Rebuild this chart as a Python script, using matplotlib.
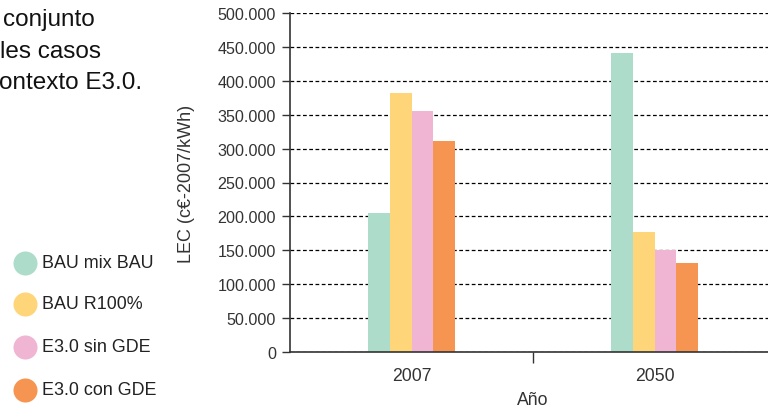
import numpy as np
import matplotlib.pyplot as plt
from matplotlib.ticker import FuncFormatter

plt.rcParams['font.family'] = ['Liberation Sans', 'DejaVu Sans']

years = ['2007', '2050']
series = ['BAU mix BAU', 'BAU R100%', 'E3.0 sin GDE', 'E3.0 con GDE']
colors = ['#addcca', '#fed679', '#efb5d3', '#f69552']
values = {
    'BAU mix BAU': [205000, 441000],
    'BAU R100%': [382000, 177000],
    'E3.0 sin GDE': [355000, 150000],
    'E3.0 con GDE': [311000, 131000],
}
intro = ['conjunto', 'les casos', 'ontexto E3.0.']

W, H = 768, 410
fig = plt.figure(figsize=(W / 100, H / 100), dpi=100)

# axes runs off the right edge, like the cropped original
x0, x1 = 290, 776
y0, y1 = 353, 14
ax = fig.add_axes([x0 / W, 1 - y0 / H, (x1 - x0) / W, (y0 - y1) / H])

x = np.arange(len(years))
bw = 0.09
for i, s in enumerate(series):
    ax.bar(x + (i - 1.5) * bw, values[s], bw, color=colors[i], zorder=2)

ax.set_xlim(-0.5, 1.5)
ax.set_ylim(0, 500000)
ax.set_yticks(np.arange(0, 500001, 50000))
ax.yaxis.set_major_formatter(FuncFormatter(
    lambda v, p: '0' if v == 0 else '{:,.0f}'.format(v).replace(',', '.')))
ax.yaxis.grid(True, linestyle=(0, (3, 2)), color='black', linewidth=0.9, zorder=1)

ax.set_xticks([0.5])
ax.set_xticklabels([])
ax.set_xticks(x, minor=True)
ax.set_xticklabels(years, minor=True)
ax.tick_params(axis='x', which='minor', length=0, pad=11, labelsize=12.7, labelcolor='#333333')
ax.tick_params(axis='x', which='major', length=8, width=1, color='#333333')
ax.tick_params(axis='y', length=6, width=1, color='#333333', labelsize=11.6,
               labelcolor='#333333', pad=4)

for side in ['top', 'right']:
    ax.spines[side].set_visible(False)
for side in ['left', 'bottom']:
    ax.spines[side].set_color('#333333')
    ax.spines[side].set_linewidth(1.2)

ax.set_ylabel('LEC (c€-2007/kWh)', fontsize=13, color='#333333', labelpad=16)
ax.set_xlabel('Año', fontsize=12.7, color='#333333', labelpad=5)

# legend drawn by hand at the left
leg_y = [264, 305, 348, 391]
lx = fig.add_axes([0, 0, 1, 1], facecolor='none')
lx.set_xlim(0, W)
lx.set_ylim(H, 0)
lx.axis('off')
for s, c, yy in zip(series, colors, leg_y):
    lx.scatter([25], [yy], s=300, color=c, linewidths=0)
    lx.text(42, yy, s, fontsize=12.9, color='#222222', va='center')

for t, yy, xx in zip(intro, [20, 52, 83], [3, 0, -1]):
    lx.text(xx, yy, t, fontsize=17.5, color='#111111', va='center')

fig.savefig('out.png', dpi=100)
